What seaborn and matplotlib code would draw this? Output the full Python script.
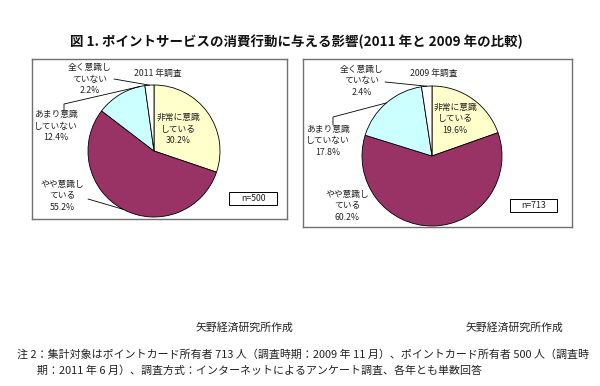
import numpy as np
import matplotlib
matplotlib.use("Agg")
import matplotlib.pyplot as plt
from matplotlib.patches import Rectangle
import seaborn as sns

# ---- data ----
categories = ["非常に意識\nしている", "やや意識し\nている", "あまり意識\nしていない", "全く意識し\nていない"]
values_2011 = [30.2, 55.2, 12.4, 2.2]
values_2009 = [19.6, 60.2, 17.8, 2.4]
survey_titles = ["2011 年調査", "2009 年調査"]
sample_sizes = ["n=500", "n=713"]
colors = ["#FFFFCC", "#993366", "#CCFFFF", "#FFFFFF"]

title = "図 1. ポイントサービスの消費行動に与える影響(2011 年と 2009 年の比較)"
credit = "矢野経済研究所作成"
note1 = "注 2：集計対象はポイントカード所有者 713 人（調査時期：2009 年 11 月）、ポイントカード所有者 500 人（調査時"
note2 = "期：2011 年 6 月）、調査方式：インターネットによるアンケート調査、各年とも単数回答"

sns.set_theme(style="white")
plt.rcParams["font.family"] = ["Noto Sans CJK JP", "DejaVu Sans"]

W, H = 600, 386
fig = plt.figure(figsize=(W / 100, H / 100), dpi=100)
fig.patch.set_facecolor("white")


def box_axes(x0, y0, x1, y1):
    ax = fig.add_axes([x0 / W, 1 - y1 / H, (x1 - x0) / W, (y1 - y0) / H])
    return ax, (x0, y0, x1, y1)


def point_on_pie(cx, cy, r, c):
    ang = np.deg2rad(90 - 360 * c)
    return cx + r * np.cos(ang), (H - cy) + r * np.sin(ang)


def draw_chart(box, center, radius, values, survey, nlabel, label_pos,
               leaders, nbox):
    x0, y0, x1, y1 = box
    ax, _ = box_axes(*box)
    cx, cy = center
    ax.pie(values, colors=colors, startangle=90, counterclock=False,
           center=(cx, H - cy), radius=radius, frame=True,
           wedgeprops=dict(edgecolor="black", linewidth=0.6))
    ax.set_aspect("auto")
    ax.set_xlim(x0, x1)
    ax.set_ylim(H - y1, H - y0)
    ax.set_autoscale_on(False)
    ax.set_xticks([])
    ax.set_yticks([])
    for s in ax.spines.values():
        s.set_visible(True)
        s.set_color("#707070")
        s.set_linewidth(1.0)
    # labels
    for cat, v, (tx, ty) in zip(categories, values, label_pos):
        ax.text(tx, H - ty, f"{cat}\n{v}%", ha="center", va="center",
                fontsize=6.3, linespacing=1.3, color="#222222")
    # leader lines
    cum = np.concatenate([[0], np.cumsum(values)]) / 100.0
    for idx, frac, pts in leaders:
        c = cum[idx] + frac * (cum[idx + 1] - cum[idx])
        px, py = point_on_pie(cx, cy, radius, c)
        xs = [p[0] for p in pts] + [px]
        ys = [H - p[1] for p in pts] + [py]
        ax.plot(xs, ys, color="black", linewidth=0.6)
    ax.text((x0 + x1) / 2 + survey[1], H - survey[2], survey[0], ha="center",
            va="center", fontsize=6.3, color="#222222")
    bx, by, bw, bh = nbox
    ax.add_patch(Rectangle((bx, H - by - bh), bw, bh, fill=False,
                           edgecolor="black", linewidth=0.7))
    ax.text(bx + bw / 2, H - by - bh / 2, nlabel, ha="center", va="center",
            fontsize=6.3, color="#222222")


draw_chart(box=(32, 59, 287, 219), center=(154, 151), radius=66,
           values=values_2011, survey=(survey_titles[0], -2, 73),
           nlabel=sample_sizes[0],
           label_pos=[(178, 129), (62, 196), (56, 126), (90, 79)],
           leaders=[(3, 0.5, [(114, 79)]),
                    (2, 0.9, [(64, 111), (64, 104)]),
                    (1, 0.5, [(88, 199)])],
           nbox=(229, 192, 48, 13))

draw_chart(box=(303, 59, 572, 227), center=(432, 156), radius=70,
           values=values_2009, survey=(survey_titles[1], -4, 73),
           nlabel=sample_sizes[1],
           label_pos=[(455, 119), (347, 206), (328, 141), (362, 81)],
           leaders=[(3, 0.5, [(385, 82)]),
                    (2, 0.5, [(333, 125), (333, 117)])],
           nbox=(510, 199, 47, 13))

fig.text(296 / W, 1 - 42 / H, title, ha="center", va="center",
         fontsize=9.7, fontweight="bold", color="#111111")
fig.text(244 / W, 1 - 328 / H, credit, ha="center", va="center",
         fontsize=7.8, color="#222222")
fig.text(515 / W, 1 - 328 / H, credit, ha="center", va="center",
         fontsize=7.8, color="#222222")
fig.text(17 / W, 1 - 354 / H, note1, ha="left", va="center",
         fontsize=7.9, color="#222222")
fig.text(37 / W, 1 - 371 / H, note2, ha="left", va="center",
         fontsize=7.9, color="#222222")

fig.savefig("out.png", dpi=100, facecolor="white")
